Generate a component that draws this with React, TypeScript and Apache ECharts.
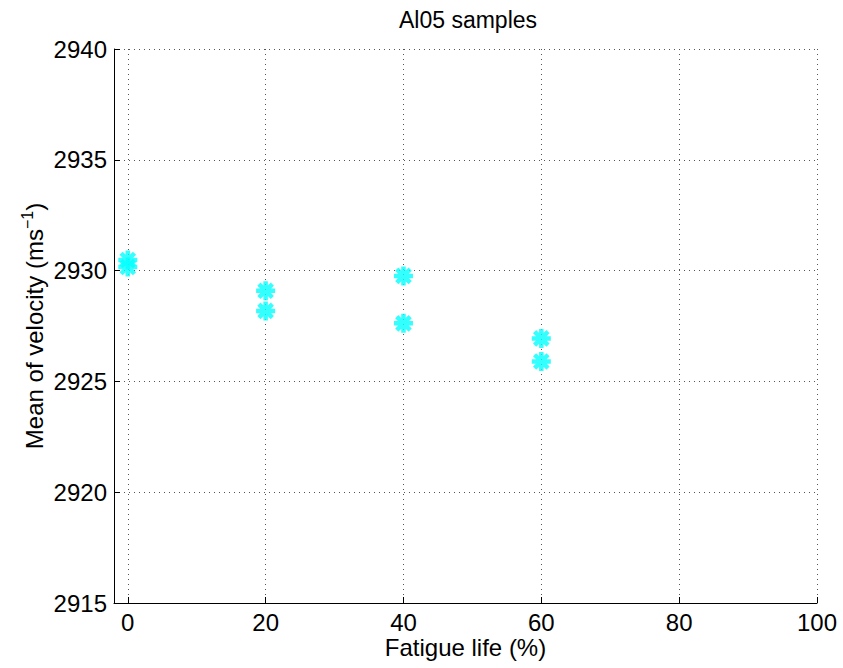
import React, { useEffect, useRef } from "react";
import * as echarts from "echarts";

const fatigueLife = [0, 0, 20, 20, 40, 40, 60, 60];
const meanVelocity = [2930.48, 2930.16, 2929.09, 2928.18, 2929.76, 2927.62, 2926.94, 2925.9];
const xTicks = [0, 20, 40, 60, 80, 100];
const yTicks = [2915, 2920, 2925, 2930, 2935, 2940];

const FONT = "Liberation Sans, Arial, Helvetica, sans-serif";
const ASTERISK = "path://M0,-10L0,10M-10,0L10,0M-7.07,-7.07L7.07,7.07M-7.07,7.07L7.07,-7.07";

export default function App() {
  const ref = useRef<HTMLDivElement>(null);
  useEffect(() => {
    if (!ref.current) return;
    document.body.style.margin = "0";
    document.body.style.overflow = "hidden";
    const chart = echarts.init(ref.current, null, { renderer: "svg" });
    const gridLine = { show: true, lineStyle: { color: "#555", type: [1, 4] as any, width: 1 } };
    chart.setOption({
      animation: false,
      backgroundColor: "#fff",
      title: {
        text: "Al05 samples",
        left: 468,
        top: 0,
        padding: 0,
        textAlign: "center",
        textStyle: { fontFamily: FONT, fontSize: 23, fontWeight: "normal", color: "#000", lineHeight: 40 },
      },
      grid: { left: 114, right: 26, top: 49, bottom: 65, outerBoundsMode: "none", containLabel: false },
      xAxis: {
        type: "value",
        min: -2,
        max: 100,
        name: "Fatigue life (%)",
        nameLocation: "middle",
        nameGap: 32,
        nameMoveOverlap: false,
        nameTextStyle: { fontFamily: FONT, fontSize: 24, color: "#000", lineHeight: 24 },
        axisLine: { show: true, onZero: false, lineStyle: { color: "#000", width: 1 } },
        axisTick: { show: true, inside: true, length: 6, customValues: xTicks, lineStyle: { color: "#000" } },
        axisLabel: { customValues: xTicks, fontFamily: FONT, fontSize: 24, color: "#000", margin: 7, lineHeight: 24 },
        splitLine: gridLine,
      },
      yAxis: {
        type: "value",
        min: yTicks[0],
        max: yTicks[yTicks.length - 1],
        interval: 5,
        name: "{a|Mean of velocity (ms}{s|−1}{a|)}",
        nameLocation: "middle",
        nameGap: 66,
        nameMoveOverlap: false,
        nameTextStyle: {
          fontFamily: FONT,
          fontSize: 24,
          color: "#000",
          rich: {
            a: { fontFamily: FONT, fontSize: 24, color: "#000", lineHeight: 28 },
            s: { fontFamily: FONT, fontSize: 16, color: "#000", padding: [0, 0, 14, 0], lineHeight: 28 },
          },
        },
        axisLine: { show: true, onZero: false, lineStyle: { color: "#000", width: 1 } },
        axisTick: { show: true, inside: true, length: 6, lineStyle: { color: "#000" } },
        axisLabel: {
          fontFamily: FONT,
          fontSize: 24,
          color: "#000",
          margin: 7,
          formatter: (v: number) => String(v),
        },
        splitLine: gridLine,
      },
      series: [
        {
          type: "scatter",
          data: fatigueLife.map((x, i) => [x, meanVelocity[i]]),
          symbol: ASTERISK,
          symbolSize: 19,
          itemStyle: { color: "#00FFFF", borderColor: "#00FFFF", borderWidth: 4.5 },
        },
      ],
    });
    return () => chart.dispose();
  }, []);
  return <div ref={ref} style={{ width: 843, height: 668 }} />;
}
